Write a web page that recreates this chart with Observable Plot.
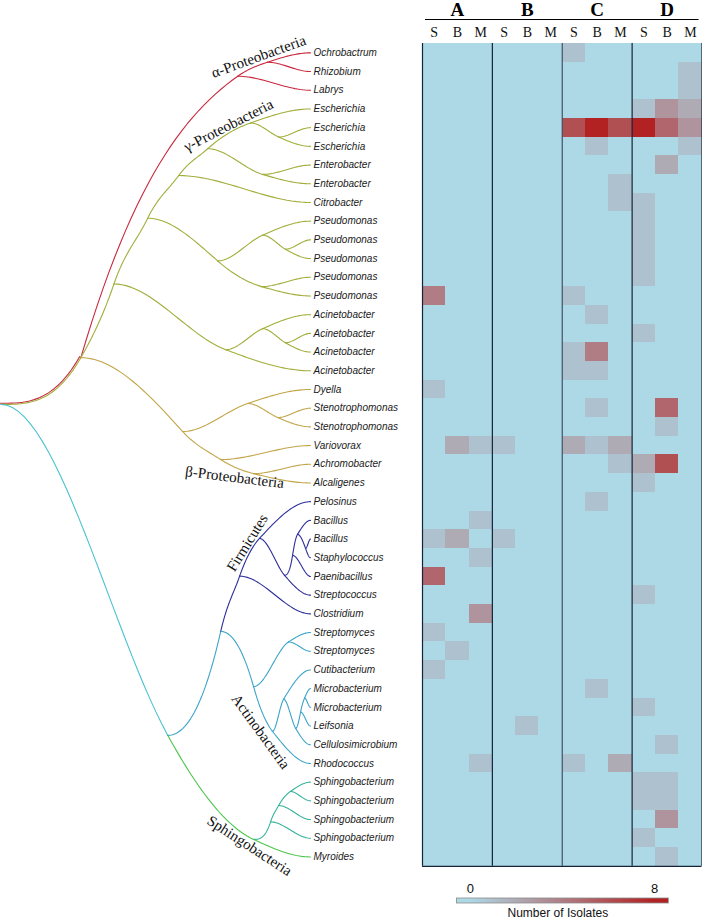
<!DOCTYPE html>
<html><head><meta charset="utf-8">
<script src="https://cdn.jsdelivr.net/npm/d3@7"></script>
<script src="https://cdn.jsdelivr.net/npm/@observablehq/plot@0.6"></script>
<style>
html,body{margin:0;padding:0;background:#fff;}
#wrap{position:relative;width:702px;height:919px;overflow:hidden;background:#fff;}
#wrap > div{position:absolute;}
#wrap svg{background:transparent !important;display:block;}
</style></head><body>
<div id="wrap">
  <div id="tree" style="left:0;top:0;width:420px;height:919px"></div>
  <div id="heat" style="left:420px;top:0;width:282px;height:919px"></div>
  <div id="bar" style="left:0;top:870px;width:702px;height:49px"></div>
</div>
<script>
// ---------------- data ----------------
const taxa = ["Ochrobactrum","Rhizobium","Labrys","Escherichia","Escherichia","Escherichia","Enterobacter","Enterobacter","Citrobacter","Pseudomonas","Pseudomonas","Pseudomonas","Pseudomonas","Pseudomonas","Acinetobacter","Acinetobacter","Acinetobacter","Acinetobacter","Dyella","Stenotrophomonas","Stenotrophomonas","Variovorax","Achromobacter","Alcaligenes","Pelosinus","Bacillus","Bacillus","Staphylococcus","Paenibacillus","Streptococcus","Clostridium","Streptomyces","Streptomyces","Cutibacterium","Microbacterium","Microbacterium","Leifsonia","Cellulosimicrobium","Rhodococcus","Sphingobacterium","Sphingobacterium","Sphingobacterium","Sphingobacterium","Myroides"];
const leafParent = ["al2","al2","al","g5","es","es","en","en","g3","ps1","ps2","ps2","ps3","ps3","ac1","ac2","ac2","ac","dy","st","st","va","alc","alc","f1","f4","f5","f5","f3","f2","f0","sm","sm","a3","mi","mi","a5","a4","a2","s3","s3","s2","s1","S"];
const sites = ["A","B","C","D"];
const fractions = ["S","B","M"];
// isolates[row] = counts for A-S A-B A-M  B-S B-B B-M  C-S C-B C-M  D-S D-B D-M
const isolates = [
 [0,0,0, 0,0,0, 1,0,0, 0,0,0],
 [0,0,0, 0,0,0, 0,0,0, 0,0,1],
 [0,0,0, 0,0,0, 0,0,0, 0,0,1],
 [0,0,0, 0,0,0, 0,0,0, 1,3,2],
 [0,0,0, 0,0,0, 6,8,6, 8,5,3],
 [0,0,0, 0,0,0, 0,1,0, 0,0,1],
 [0,0,0, 0,0,0, 0,0,0, 0,2,0],
 [0,0,0, 0,0,0, 0,0,1, 0,0,0],
 [0,0,0, 0,0,0, 0,0,1, 1,0,0],
 [0,0,0, 0,0,0, 0,0,0, 1,0,0],
 [0,0,0, 0,0,0, 0,0,0, 1,0,0],
 [0,0,0, 0,0,0, 0,0,0, 1,0,0],
 [0,0,0, 0,0,0, 0,0,0, 1,0,0],
 [4,0,0, 0,0,0, 1,0,0, 0,0,0],
 [0,0,0, 0,0,0, 0,1,0, 0,0,0],
 [0,0,0, 0,0,0, 0,0,0, 1,0,0],
 [0,0,0, 0,0,0, 1,4,0, 0,0,0],
 [0,0,0, 0,0,0, 1,1,0, 0,0,0],
 [1,0,0, 0,0,0, 0,0,0, 0,0,0],
 [0,0,0, 0,0,0, 0,1,0, 0,5,0],
 [0,0,0, 0,0,0, 0,0,0, 0,1,0],
 [0,2,1, 1,0,0, 2,1,2, 0,0,0],
 [0,0,0, 0,0,0, 0,0,1, 2,6,0],
 [0,0,0, 0,0,0, 0,0,0, 1,0,0],
 [0,0,0, 0,0,0, 0,1,0, 0,0,0],
 [0,0,1, 0,0,0, 0,0,0, 0,0,0],
 [1,2,0, 1,0,0, 0,0,0, 0,0,0],
 [0,0,1, 0,0,0, 0,0,0, 0,0,0],
 [5,0,0, 0,0,0, 0,0,0, 0,0,0],
 [0,0,0, 0,0,0, 0,0,0, 1,0,0],
 [0,0,3, 0,0,0, 0,0,0, 0,0,0],
 [1,0,0, 0,0,0, 0,0,0, 0,0,0],
 [0,1,0, 0,0,0, 0,0,0, 0,0,0],
 [1,0,0, 0,0,0, 0,0,0, 0,0,0],
 [0,0,0, 0,0,0, 0,1,0, 0,0,0],
 [0,0,0, 0,0,0, 0,0,0, 1,0,0],
 [0,0,0, 0,1,0, 0,0,0, 0,0,0],
 [0,0,0, 0,0,0, 0,0,0, 0,1,0],
 [0,0,1, 0,0,0, 1,0,2, 0,0,0],
 [0,0,0, 0,0,0, 0,0,0, 1,1,0],
 [0,0,0, 0,0,0, 0,0,0, 1,1,0],
 [0,0,0, 0,0,0, 0,0,0, 0,3,0],
 [0,0,0, 0,0,0, 0,0,0, 1,0,0],
 [0,0,0, 0,0,0, 0,0,0, 0,1,0]
];
// internal tree nodes: depth = relative distance from root (tips = 100)
const treeNodes = [
 {id:"root", parent:null, depth:0, row:18.8},
 {id:"Pr", parent:"root", depth:25.8, row:16.3, clade:"gamma"},
 {id:"al", parent:"Pr", depth:76.5, clade:"alpha"},
 {id:"al2", parent:"al", depth:86.1},
 {id:"g1", parent:"Pr", depth:36.5, clade:"gamma"},
 {id:"g2", parent:"g1", depth:47.4},
 {id:"g3", parent:"g2", depth:57.4},
 {id:"g4", parent:"g3", depth:66.8},
 {id:"g5", parent:"g4", depth:80.6},
 {id:"es", parent:"g5", depth:89.7},
 {id:"en", parent:"g4", depth:84.5},
 {id:"ps", parent:"g2", depth:70},
 {id:"ps1", parent:"ps", depth:84.5},
 {id:"ps2", parent:"ps1", depth:91.9},
 {id:"ps3", parent:"ps", depth:84.2},
 {id:"ac", parent:"g1", depth:72.6},
 {id:"ac1", parent:"ac", depth:84.5},
 {id:"ac2", parent:"ac1", depth:91.9},
 {id:"be", parent:"Pr", depth:58.7, clade:"beta"},
 {id:"dy", parent:"be", depth:79.7},
 {id:"st", parent:"dy", depth:89.4},
 {id:"va", parent:"be", depth:71},
 {id:"alc", parent:"va", depth:81.6},
 {id:"X", parent:"root", depth:53.9, clade:"stem"},
 {id:"Y", parent:"X", depth:71, clade:"actino"},
 {id:"f0", parent:"Y", depth:77.1, clade:"firm"},
 {id:"f1", parent:"f0", depth:83.5},
 {id:"f2", parent:"f1", depth:91.6},
 {id:"f3", parent:"f2", depth:94.2},
 {id:"f4", parent:"f3", depth:95.8},
 {id:"f5", parent:"f4", depth:98.4},
 {id:"a1", parent:"Y", depth:81.6, clade:"actino"},
 {id:"sm", parent:"a1", depth:92.9},
 {id:"a2", parent:"a1", depth:87.7},
 {id:"a3", parent:"a2", depth:91.3},
 {id:"a4", parent:"a3", depth:95.2},
 {id:"a5", parent:"a4", depth:96.8},
 {id:"mi", parent:"a5", depth:98.1},
 {id:"S", parent:"X", depth:81.6, clade:"sphingo"},
 {id:"s1", parent:"S", depth:87.1, clade:"sphTeal"},
 {id:"s2", parent:"s1", depth:89.7},
 {id:"s3", parent:"s2", depth:93.5}
];
const cladeColor = {alpha:"#c9283e", gamma:"#a2ae3a", beta:"#c2a548", stem:"#4ac2d0", actino:"#3da4c8", firm:"#2e2e9a", sphingo:"#4dc64c", sphTeal:"#37b39c"};
const cladeLabels = [
 {text:"α-Proteobacteria", depth:83.2, row:0.2, angle:-20},
 {text:"γ-Proteobacteria", depth:73.5, row:3.88, angle:-27},
 {text:"β-Proteobacteria", depth:75.5, row:22.7, angle:7},
 {text:"Firmicutes", depth:79.6, row:26.2, angle:-58},
 {text:"Actinobacteria", depth:83.9, row:36.3, angle:54},
 {text:"Sphingobacteria", depth:80.3, row:42.4, angle:33}
];
const serif = "'Liberation Serif','Times New Roman',Times,serif";
const sans = "'Liberation Sans',Arial,Helvetica,sans-serif";

// ---------------- tree geometry ----------------
const K = 1.5, K2 = 1.9;
const nodes = new Map();
for (const n of treeNodes) nodes.set(n.id, {...n, children: [], leaf: false});
taxa.forEach((name, i) => nodes.set("L" + i, {id: "L" + i, parent: leafParent[i], depth: 100, row: i, leaf: true, children: [], name}));
for (const n of nodes.values()) if (n.parent) { n.p = nodes.get(n.parent); n.p.children.push(n); }
const root = nodes.get("root");
function setRow(n) { if (n.leaf) return n.row; const r = n.children.map(setRow); if (n.row == null) n.row = d3.mean(r); return n.row; }
setRow(root);
function setClade(n, c) { if (n.clade == null) n.clade = c; n.children.forEach(ch => setClade(ch, n.clade)); }
setClade(root, null);
const sec = (a, b) => (b.row - a.row) / (b.depth - a.depth);
const dirIn = n => n.p ? Math.sign(n.row - n.p.row) : 0;
function cont(n) {
  if (!n.p) return null;
  const d = dirIn(n);
  const c = n.children.filter(ch => Math.sign(ch.row - n.row) === d);
  if (!c.length) return null;
  return c.reduce((a, b) => Math.abs(sec(n, b)) > Math.abs(sec(n, a)) ? b : a);
}
function tan(n) {
  if (!n.p || n.leaf) return 0;
  const c = cont(n); if (!c) return 0;
  const v = K * sec(n, c), lim = 3 * Math.abs(sec(n.p, n));
  return Math.sign(v) * Math.min(Math.abs(v), lim);
}
const clampT = (m, ch) => Math.sign(m) * Math.min(Math.abs(m), 3 * Math.abs(ch));
const edgePts = [];
for (const c of nodes.values()) {
  if (!c.p) continue;
  const p = c.p, h = c.depth - p.depth, ch = sec(p, c);
  let m0 = 0;
  if (p.p && Math.sign(c.row - p.row) === dirIn(p)) m0 = (c === cont(p)) ? tan(p) : K2 * ch;
  let m1 = c.leaf ? 0 : tan(c);
  m0 = clampT(m0, ch); m1 = clampT(m1, ch);
  const N = 28;
  for (let i = 0; i <= N; i++) {
    const u = i / N, u2 = u * u, u3 = u2 * u;
    const y = (2*u3 - 3*u2 + 1) * p.row + (u3 - 2*u2 + u) * h * m0 + (-2*u3 + 3*u2) * c.row + (u3 - u2) * h * m1;
    edgePts.push({edge: c.id, x: p.depth + u * h, y, color: cladeColor[c.clade]});
  }
}
const leaves = [...nodes.values()].filter(n => n.leaf);

document.getElementById("tree").append(Plot.plot({
  width: 420, height: 919, margin: 0,
  style: {background: "transparent"},
  x: {domain: [0, 100], range: [0.5, 310], axis: null},
  y: {domain: [-0.5, 43.5], range: [43, 865.8], axis: null},
  color: {type: "identity"},
  marks: [
    Plot.line(edgePts.filter(d => d.edge === "Pr"), {x: "x", y: "y", stroke: cladeColor.alpha, strokeWidth: 1.1, dx: -1.1, dy: -1.1}),
    Plot.line(edgePts, {x: "x", y: "y", z: "edge", stroke: "color", strokeWidth: 1.1}),
    Plot.text(leaves, {x: "depth", y: "row", text: "name", textAnchor: "start", dx: 3, fontSize: 10, fontStyle: "italic", fontFamily: sans, fill: "#1a1a1a"}),
    Plot.text(cladeLabels, {x: "depth", y: "row", text: "text", rotate: "angle", fontSize: 15, fontFamily: serif, fill: "#111"})
  ]
}));

// ---------------- heatmap ----------------
const cells = [];
isolates.forEach((row, r) => row.forEach((v, c) => cells.push({r, c, v})));
const columns = sites.flatMap(s => fractions.map(f => ({site: s, frac: f})));
const colorScale = {type: "linear", domain: [0, 8], range: ["#add8e6", "#b22222"], interpolate: "rgb", clamp: true};

document.getElementById("heat").append(Plot.plot({
  width: 282, height: 919, marginLeft: 2, marginRight: 0.5, marginTop: 43, marginBottom: 53.2,
  style: {background: "transparent"},
  x: {domain: [0, 12], axis: null},
  y: {domain: [0, 44], range: [43, 865.8], axis: null},
  color: colorScale,
  marks: [
    Plot.rect(cells, {x1: "c", x2: d => d.c + 1, y1: "r", y2: d => d.r + 1, fill: "v", shapeRendering: "crispEdges"}),
    Plot.ruleX([0, 3, 9, 12], {stroke: "#15243a", strokeWidth: 1.2}),
    Plot.ruleX([6], {stroke: "#3e5466", strokeWidth: 1.2}),
    Plot.ruleY([44], {stroke: "#15243a", strokeWidth: 1.2}),
    Plot.ruleY([0], {dy: -24, insetLeft: 3, insetRight: 3, stroke: "#000", strokeWidth: 1}),
    Plot.text(sites, {x: (d, i) => i * 3 + 1.5, frameAnchor: "top", lineAnchor: "middle", dy: -34, text: d => d, fontSize: 19, fontWeight: "bold", fontFamily: serif, fill: "#000"}),
    Plot.text(columns, {x: (d, i) => i + 0.5, frameAnchor: "top", lineAnchor: "middle", dy: -10.5, text: "frac", fontSize: 14, fontFamily: serif, fill: "#111"})
  ]
}));

// ---------------- colour bar ----------------
const ramp = d3.range(-0.6, 8.6, 0.05);
document.getElementById("bar").append(Plot.plot({
  width: 702, height: 49, marginLeft: 456, marginRight: 34, marginTop: 27.5, marginBottom: 16.5,
  style: {background: "transparent"},
  x: {domain: [-0.6, 8.6], axis: null},
  color: colorScale,
  marks: [
    Plot.rect(ramp, {x1: d => d, x2: d => d + 0.051, fill: d => d + 0.025, shapeRendering: "crispEdges"}),
    Plot.frame({stroke: "#8c8c8c", strokeWidth: 0.8}),
    Plot.text([0, 8], {x: d => d, text: d => String(d), frameAnchor: "top", lineAnchor: "middle", dy: -9.5, fontSize: 13, fontFamily: sans, fill: "#111"}),
    Plot.text(["Number of Isolates"], {x: () => 3.8, text: d => d, frameAnchor: "bottom", lineAnchor: "middle", dy: 10, fontSize: 12, fontFamily: sans, fill: "#111"})
  ]
}));
</script></body></html>
